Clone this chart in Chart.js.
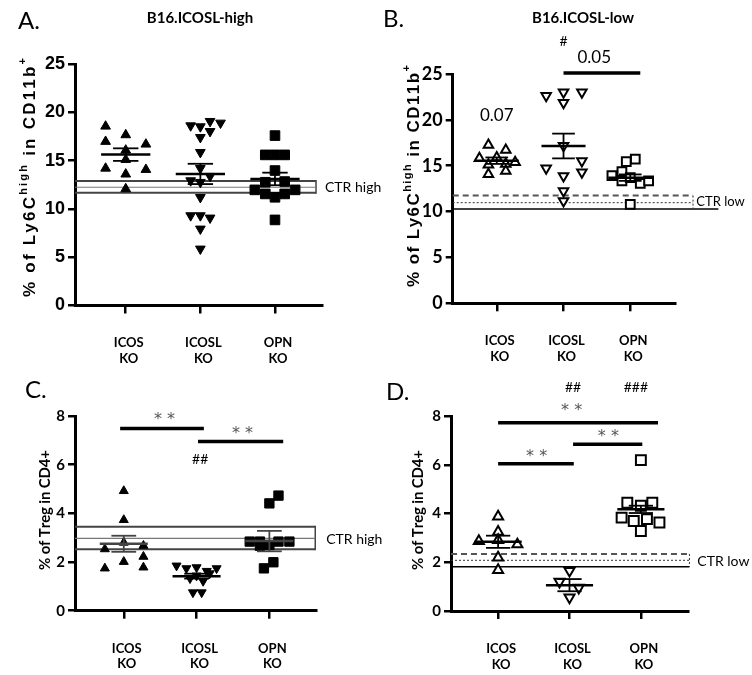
<!DOCTYPE html>
<html>
<head>
<meta charset="utf-8">
<script src="https://cdn.jsdelivr.net/npm/chart.js@4.4.1/dist/chart.umd.min.js"></script>
<style>
  html, body { margin: 0; padding: 0; background: #fff; }
  #wrap { position: relative; width: 752px; height: 675px; overflow: hidden; background: #fff; }
  canvas { position: absolute; }
</style>
</head>
<body>
<div id="wrap">
  <canvas id="cA"></canvas>
  <canvas id="cB"></canvas>
  <canvas id="cC"></canvas>
  <canvas id="cD"></canvas>
</div>
<script>
const groups = [['ICOS', 'KO'], ['ICOSL', 'KO'], ['OPN', 'KO']];

// A. B16.ICOSL-high, % Ly6C-high in CD11b+  (x = jitter around the group)
const aIcosX  = [-0.27, -0.27, 0, 0.27, 0, 0, -0.27, 0.27, 0, 0];
const aIcosY  = [18.55, 16.97, 17.66, 16.69, 16.07, 15.1, 14.2, 14.07, 13.59, 12.07];
const aIcoslX = [-0.13, 0, 0.13, 0.27, 0.13, 0, 0, 0, -0.13, 0, 0.13, 0, -0.13, 0, 0.13, 0, 0];
const aIcoslY = [18.62, 18.52, 19.07, 18.9, 18.03, 17.41, 15.86, 14.2, 12.93, 12.76, 13.38, 11.2, 9.31, 9.31, 9.07, 7.93, 5.86];
const aOpnX   = [0, -0.13, 0, 0.13, 0, -0.13, 0.13, -0.27, 0.27, -0.13, 0.13, 0, 0];
const aOpnY   = [17.59, 15.59, 15.59, 15.59, 13.97, 12.76, 12.83, 11.97, 11.97, 11.55, 11.55, 11.2, 8.86];
const aMean = [15.62, 13.62, 13.1];
const aSem  = [0.65, 1.05, 0.65];
const aCtr  = [11.66, 12.24, 12.9];   // CTR high: low edge, mean, high edge

// B. B16.ICOSL-low
const bIcosX  = [-0.125, 0.135, -0.26, 0, 0.275, -0.125, 0.135, 0.135, -0.125];
const bIcosY  = [17.26, 16.72, 15.81, 15.9, 15.37, 15.1, 15.2, 14.43, 14.06];
const bIcoslX = [-0.26, 0, 0.275, 0, 0, -0.26, 0.275, 0.275, 0, 0, 0];
const bIcoslY = [22.64, 23.0, 23.0, 21.87, 17.19, 14.72, 15.52, 14.28, 13.88, 12.25, 11.16];
const bOpnX   = [0.075, -0.06, -0.125, -0.275, -0.125, 0, 0.15, 0.275, 0];
const bOpnY   = [15.73, 15.44, 14.35, 13.92, 13.34, 13.7, 13.08, 13.34, 10.79];
const bMean = [15.55, 17.15, 13.7];
const bSem  = [0.35, 1.35, 0.35];
const bCtr  = [10.28, 10.97, 11.74];  // CTR low: solid, dotted, dashed

// C. % of Treg in CD4+ (ICOSL-high)
const cIcosX  = [0, 0, 0, -0.26, 0.27, 0, 0.27, -0.26, 0.27];
const cIcosY  = [4.92, 3.73, 2.8, 2.53, 2.67, 2.01, 2.22, 1.74, 1.78];
const cIcoslX = [-0.275, -0.14, 0, 0.14, 0.275, -0.09, 0.09, 0, 0.18, -0.05, 0.07];
const cIcoslY = [1.85, 1.74, 1.78, 1.63, 1.74, 1.33, 1.22, 1.44, 1.53, 0.75, 0.75];
const cOpnX   = [0.125, 0, -0.27, -0.13, 0.125, 0.275, -0.13, 0, 0.055, -0.075];
const cOpnY   = [4.73, 4.41, 2.84, 2.84, 2.84, 2.84, 2.67, 2.7, 1.99, 1.74];
const cMean = [2.75, 1.42, 2.86];
const cSem  = [0.33, 0.1, 0.42];
const cCtr  = [2.53, 2.97, 3.45];

// D. % of Treg in CD4+ (ICOSL-low)
const dIcosX  = [0, 0, -0.27, 0, 0.27, 0, 0];
const dIcosY  = [3.87, 3.25, 2.87, 2.91, 2.73, 2.19, 1.68];
const dIcoslX = [0, -0.14, 0.13, 0];
const dIcoslY = [1.65, 1.2, 0.96, 0.56];
const dOpnX   = [0, -0.19, 0.16, 0, -0.27, -0.1, 0.085, 0.26, 0];
const dOpnY   = [6.19, 4.44, 4.44, 4.32, 3.83, 3.69, 3.77, 3.63, 3.28];
const dMean = [2.84, 1.06, 4.17];
const dSem  = [0.25, 0.25, 0.15];
const dCtr  = [1.82, 2.08, 2.34];

const LATO = 'Lato, "Open Sans", sans-serif';
const ARIAL = '"Liberation Sans", Arial, sans-serif';

function text(ctx, s, x, y, font, align, color) {
  ctx.save();
  ctx.font = font;
  ctx.fillStyle = color || '#000';
  ctx.textAlign = align || 'center';
  ctx.textBaseline = 'middle';
  ctx.fillText(s, x, y);
  ctx.restore();
}

// rotated axis title with superscripts, stretched to a given length
function yTitle(ctx, t) {
  ctx.save();
  ctx.translate(t.x, t.y);
  ctx.rotate(-Math.PI / 2);
  ctx.fillStyle = '#000';
  ctx.textBaseline = 'alphabetic';
  ctx.textAlign = 'left';
  const chars = [];
  t.parts.forEach(p => { for (const ch of p[0]) chars.push([ch, p[1], p[2]]); });
  let nat = 0;
  chars.forEach(c => { ctx.font = c[1]; nat += ctx.measureText(c[0]).width; });
  const sp = (t.len - nat) / (chars.length - 1);
  let cx = -t.len / 2;
  chars.forEach(c => {
    ctx.font = c[1];
    ctx.fillText(c[0], cx, -c[2]);
    cx += ctx.measureText(c[0]).width + sp;
  });
  ctx.restore();
}

function line(ctx, x1, y1, x2, y2, w, color, dash) {
  ctx.save();
  ctx.beginPath();
  ctx.lineWidth = w;
  ctx.strokeStyle = color;
  ctx.setLineDash(dash || []);
  ctx.moveTo(x1, y1);
  ctx.lineTo(x2, y2);
  ctx.stroke();
  ctx.restore();
}

function panel(o) {
  const cv = document.getElementById(o.id);
  cv.width = o.w; cv.height = o.h;
  cv.style.left = o.ox + 'px';
  cv.style.top = o.oy + 'px';

  const sets = o.sets.map(s => ({
    data: s.x.map((dx, i) => ({ x: s.g + dx, y: s.y[i] })),
    pointStyle: s.style,
    pointRotation: s.rot || 0,
    pointRadius: s.r,
    pointHoverRadius: s.r,
    pointBackgroundColor: o.open ? '#fff' : '#000',
    pointBorderColor: '#000',
    pointBorderWidth: o.open ? 2 : 1,
    showLine: false
  }));

  const deco = {
    id: 'deco',
    beforeDatasetsDraw(chart) {
      const ctx = chart.ctx, X = v => chart.scales.x.getPixelForValue(v), Y = v => chart.scales.y.getPixelForValue(v);
      const x0 = chart.chartArea.left;
      const c = o.ctr;
      if (o.ctrType === 'box') {
        const x1 = X(o.ctrRight);
        line(ctx, x0, Y(c[2]), x1, Y(c[2]), 2, '#444');
        line(ctx, x0, Y(c[0]), x1, Y(c[0]), 2, '#444');
        line(ctx, x1, Y(c[2]) - 1, x1, Y(c[0]) + 1, 1.5, '#444');
        line(ctx, x0, Y(c[1]), x1, Y(c[1]), 1.2, '#777');
      } else {
        const x1 = X(o.ctrRight);
        line(ctx, x0, Y(c[2]), x1, Y(c[2]), 2, '#555', [6, 4]);
        line(ctx, x0, Y(c[1]), x1, Y(c[1]), 1, '#333', [2, 2]);
        line(ctx, x0, Y(c[0]), X(o.solidRight), Y(c[0]), 1.5, '#000');
        line(ctx, x1, Y(c[2]), x1, Y(c[0]), 1, '#333', [2, 2]);
      }
      text(ctx, o.ctrLabel, X(o.ctrText[0]), Y(o.ctrText[1]), o.ctrFont, 'left');
    },
    afterDatasetsDraw(chart) {
      const ctx = chart.ctx, X = v => chart.scales.x.getPixelForValue(v), Y = v => chart.scales.y.getPixelForValue(v);
      o.mean.forEach((m, i) => {
        const s = o.sem[i], col = (o.meanColor && o.meanColor[i]) || '#000';
        line(ctx, X(i - 0.33), Y(m), X(i + 0.33), Y(m), 2.5, col);
        line(ctx, X(i - 0.17), Y(m + s), X(i + 0.17), Y(m + s), 1.8, col);
        line(ctx, X(i - 0.17), Y(m - s), X(i + 0.17), Y(m - s), 1.8, col);
        line(ctx, X(i), Y(m + s), X(i), Y(m - s), 1.8, col);
      });
    },
    afterDraw(chart) {
      const ctx = chart.ctx, X = v => chart.scales.x.getPixelForValue(v), Y = v => chart.scales.y.getPixelForValue(v);
      (o.bars || []).forEach(b => line(ctx, X(b[0]), Y(b[2]), X(b[1]), Y(b[2]), 3.5, '#000'));
      (o.notes || []).forEach(n => text(ctx, n[0], X(n[1]), Y(n[2]) + (n[4] || 0), n[3], 'center', n[5]));
      text(ctx, o.letter[0], o.letter[1], o.letter[2], '24px ' + LATO, 'left');
      if (o.title) text(ctx, o.title[0], o.title[1], o.title[2], 'bold 15px ' + LATO, 'center');
      yTitle(ctx, o.ytitle);
    }
  };

  return new Chart(cv, {
    type: 'scatter',
    data: { datasets: sets },
    options: {
      responsive: false,
      animation: false,
      events: [],
      layout: { padding: { left: 0, top: o.t, right: o.w - o.r, bottom: o.h - o.b - 60 } },
      plugins: { legend: { display: false }, tooltip: { enabled: false } },
      scales: {
        x: {
          type: 'linear', min: o.xMin, max: o.xMax,
          afterFit: s => { s.height = 60; },
          afterBuildTicks: s => { s.ticks = [0, 1, 2].map(v => ({ value: v })); },
          grid: { drawOnChartArea: false, drawTicks: true, tickLength: 8, lineWidth: 2.5, color: '#000' },
          border: { color: '#000', width: 3 },
          ticks: {
            callback: v => groups[v],
            font: { family: LATO, weight: 'bold', size: 13, lineHeight: 1.2 },
            color: '#000', padding: 22, labelOffset: 3, maxRotation: 0, autoSkip: false
          }
        },
        y: {
          min: 0, max: o.yMax,
          afterFit: s => { s.width = o.l; },
          grid: { drawOnChartArea: false, drawTicks: true, tickLength: 7, lineWidth: 2.5, color: '#000' },
          border: { color: '#000', width: 3 },
          ticks: { stepSize: o.step, font: o.yFont, color: '#000', padding: 3 }
        }
      }
    },
    plugins: [deco]
  });
}

const hiFont = 'bold 17px ' + ARIAL, supFont = 'bold 11px ' + ARIAL;
const trFont = 'bold 15px ' + LATO;
const starFont = '16px "DejaVu Sans", sans-serif';

panel({
  id: 'cA', ox: 0, oy: 0, w: 400, h: 372, l: 75, r: 322, t: 64, b: 305.5,
  xMin: -0.68, xMax: 2.63, yMax: 25, step: 5,
  yFont: { family: ARIAL, weight: 'bold', size: 18 },
  sets: [
    { g: 0, x: aIcosX, y: aIcosY, style: 'triangle', r: 5.6 },
    { g: 1, x: aIcoslX, y: aIcoslY, style: 'triangle', rot: 180, r: 5.6 },
    { g: 2, x: aOpnX, y: aOpnY, style: 'rect', r: 6.8 }
  ],
  mean: aMean, sem: aSem,
  ctr: aCtr, ctrType: 'box', ctrRight: 2.55, ctrLabel: 'CTR high', ctrFont: '14px ' + LATO, ctrText: [2.67, 12.25],
  letter: ['A.', 18, 21], title: ['B16.ICOSL-high', 200, 18],
  ytitle: { x: 35, y: 177.5, len: 239, parts: [['% of Ly6C', hiFont, 0], ['high', supFont, 8], [' in CD11b', hiFont, 0], ['+', supFont, 9]] }
});

panel({
  id: 'cB', ox: 376, oy: 0, w: 376, h: 372, l: 76.7, r: 299, t: 74, b: 303.3,
  xMin: -0.66, xMax: 2.67, yMax: 25, step: 5, open: true,
  yFont: { family: LATO, weight: 'bold', size: 18 },
  sets: [
    { g: 0, x: bIcosX, y: bIcosY, style: 'triangle', r: 5.5 },
    { g: 1, x: bIcoslX, y: bIcoslY, style: 'triangle', rot: 180, r: 5.5 },
    { g: 2, x: bOpnX, y: bOpnY, style: 'rect', r: 6.2 }
  ],
  mean: bMean, sem: bSem,
  ctr: bCtr, ctrType: 'lines', ctrRight: 2.94, solidRight: 3.32, ctrLabel: 'CTR low', ctrFont: '13px ' + LATO, ctrText: [2.99, 11.05],
  bars: [[1, 2.15, 25.1]],
  notes: [['0.07', 0, 20.5, '17px ' + LATO], ['0.05', 1.46, 26.75, '17px ' + LATO], ['#', 1.0, 28.5, '14px ' + LATO]],
  letter: ['B.', 7, 19], title: ['B16.ICOSL-low', 207, 18],
  ytitle: { x: 43, y: 176, len: 222, parts: [['% of Ly6C', hiFont, 0], ['high', supFont, 8], [' in CD11b', hiFont, 0], ['+', supFont, 9]] }
});

panel({
  id: 'cC', ox: 0, oy: 372, w: 400, h: 303, l: 75, r: 316.7, t: 44, b: 238.7,
  xMin: -0.67, xMax: 2.65, yMax: 8, step: 2,
  yFont: { family: LATO, weight: 'bold', size: 15 },
  sets: [
    { g: 0, x: cIcosX, y: cIcosY, style: 'triangle', r: 5.2 },
    { g: 1, x: cIcoslX, y: cIcoslY, style: 'triangle', rot: 180, r: 5.2 },
    { g: 2, x: cOpnX, y: cOpnY, style: 'rect', r: 6.6 }
  ],
  mean: cMean, sem: cSem, meanColor: ['#444', '#000', '#444'],
  ctr: cCtr, ctrType: 'box', ctrRight: 2.63, ctrLabel: 'CTR high', ctrFont: '14px ' + LATO, ctrText: [2.78, 2.92],
  bars: [[-0.05, 1.1, 7.49], [1.02, 2.19, 6.95]],
  notes: [['* *', 0.56, 8.0, starFont, 4, '#555'], ['* *', 1.63, 7.45, starFont, 4, '#555'], ['##', 1.05, 6.21, '14px ' + LATO]],
  letter: ['C.', 25, 18],
  ytitle: { x: 50, y: 138, len: 120, parts: [['% of Treg in CD4+', trFont, 0]] }
});

panel({
  id: 'cD', ox: 376, oy: 372, w: 376, h: 303, l: 75, r: 312, t: 44, b: 239,
  xMin: -0.66, xMax: 2.66, yMax: 8, step: 2, open: true,
  yFont: { family: LATO, weight: 'bold', size: 15 },
  sets: [
    { g: 0, x: dIcosX, y: dIcosY, style: 'triangle', r: 5.8 },
    { g: 1, x: dIcoslX, y: dIcoslY, style: 'triangle', rot: 180, r: 5.8 },
    { g: 2, x: dOpnX, y: dOpnY, style: 'rect', r: 7 }
  ],
  mean: dMean, sem: dSem,
  ctr: dCtr, ctrType: 'lines', ctrRight: 2.68, solidRight: 2.68, ctrLabel: 'CTR low', ctrFont: '14px ' + LATO, ctrText: [2.79, 2.05],
  bars: [[0, 2.24, 7.72], [1.05, 2.02, 6.84], [0, 1.06, 6.04]],
  notes: [['* *', 1.03, 8.38, starFont, 4, '#555'], ['* *', 1.545, 7.29, starFont, 4, '#555'], ['* *', 0.54, 6.5, starFont, 4, '#555'],
          ['##', 1.05, 9.19, '14px ' + LATO], ['###', 1.93, 9.19, '14px ' + LATO]],
  letter: ['D.', 10, 20],
  ytitle: { x: 47, y: 138, len: 120, parts: [['% of Treg in CD4+', trFont, 0]] }
});
</script>
</body>
</html>
